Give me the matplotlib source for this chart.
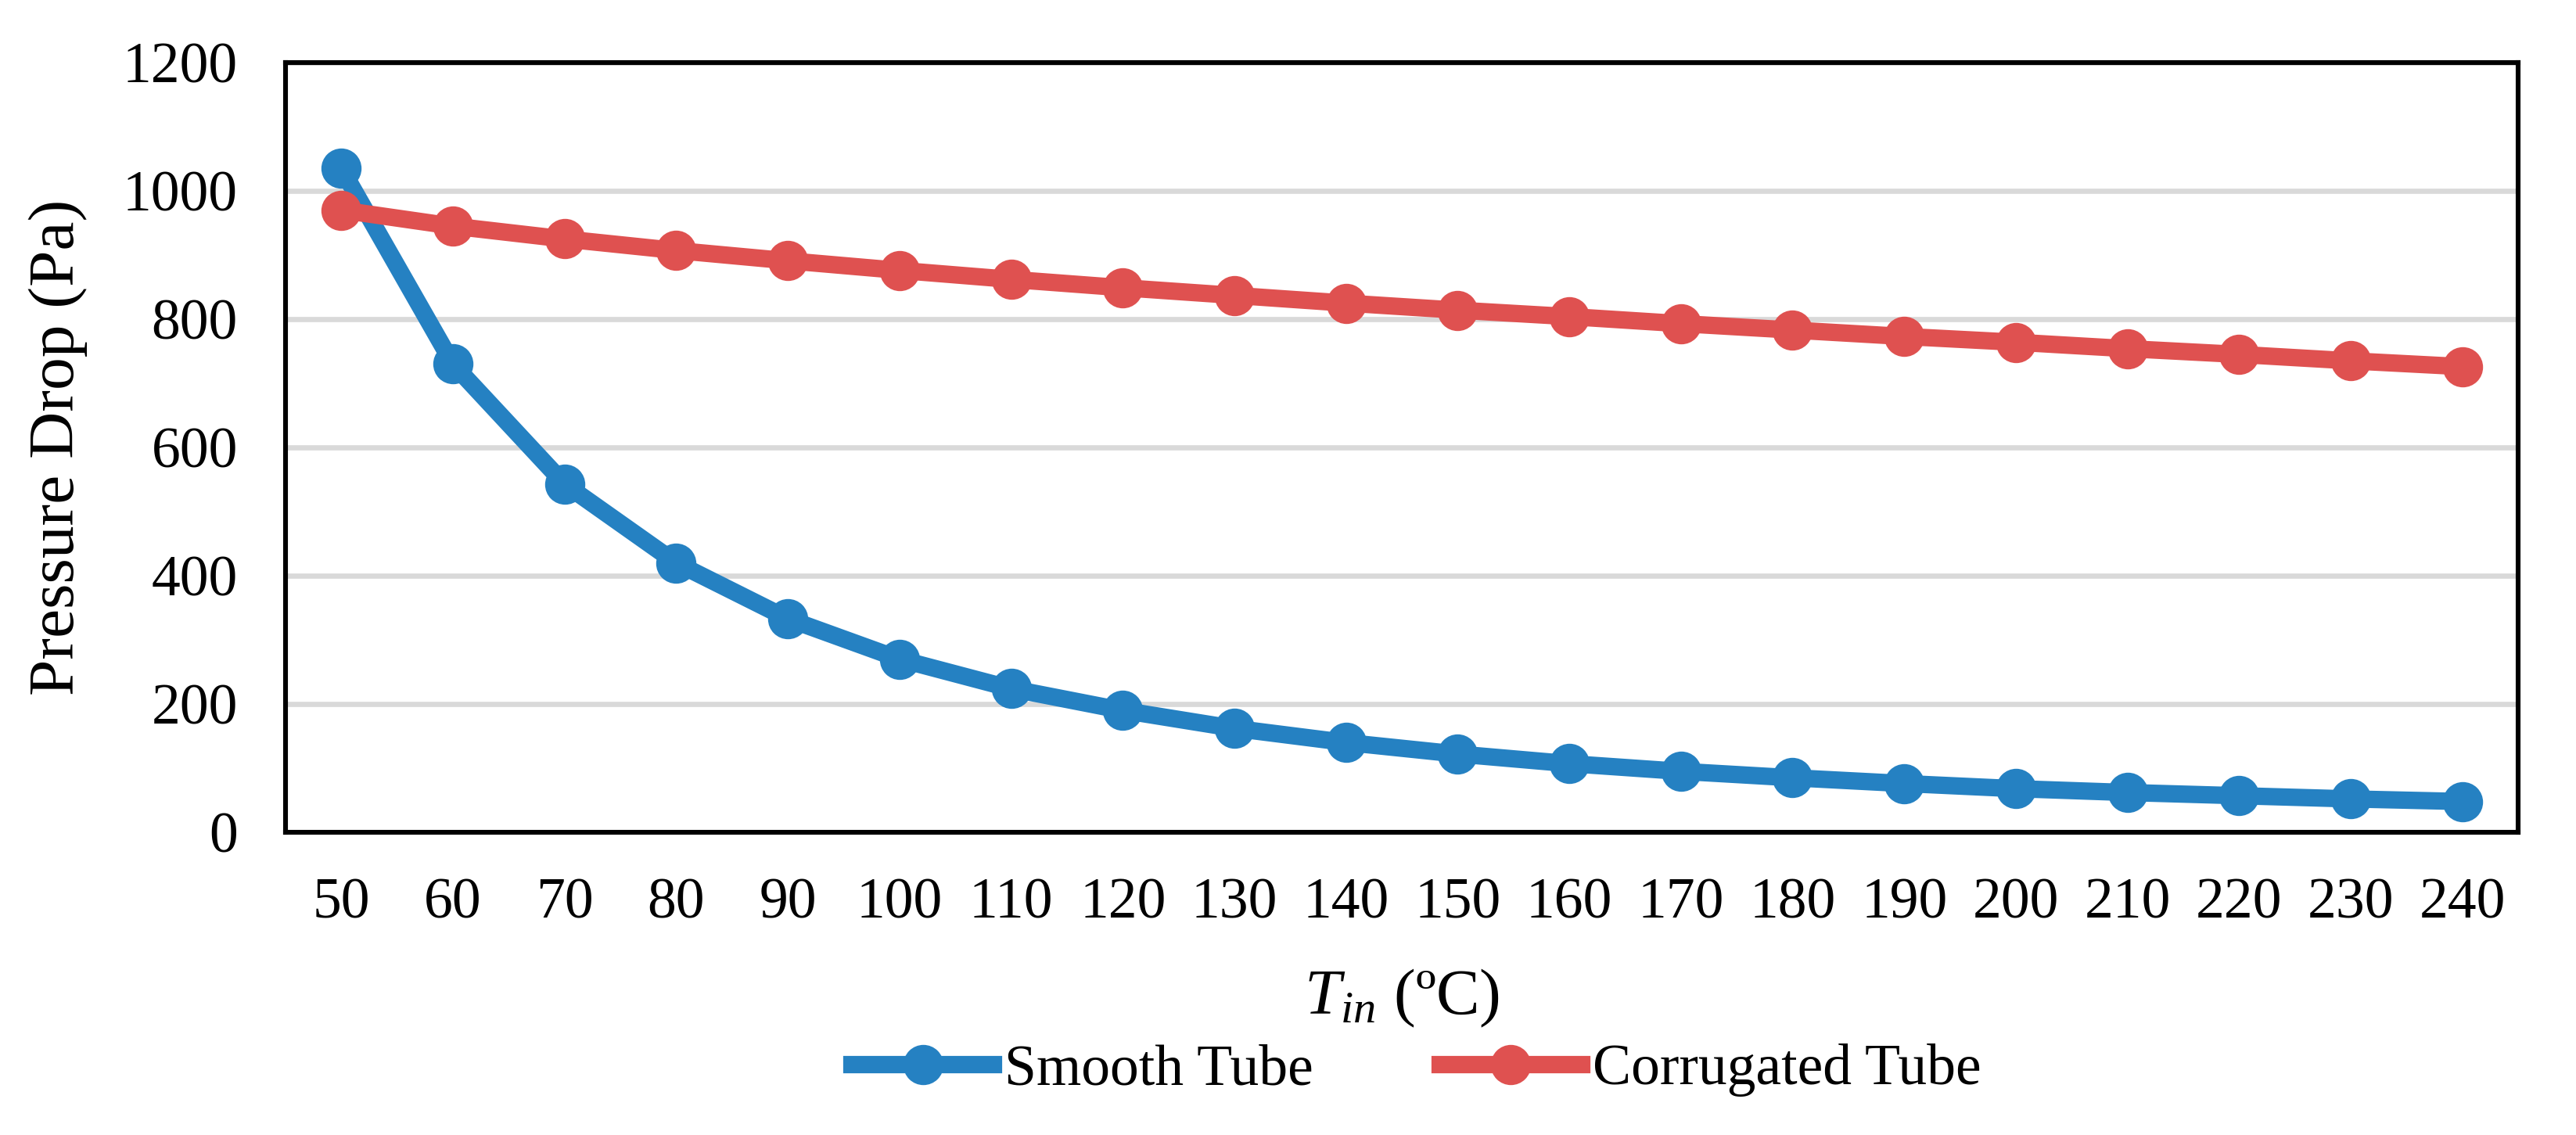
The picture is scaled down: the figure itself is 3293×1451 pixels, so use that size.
import matplotlib
matplotlib.use('Agg')
import matplotlib.pyplot as plt

# inlet temperature categories (degC)
t_in = [50, 60, 70, 80, 90, 100, 110, 120, 130, 140,
        150, 160, 170, 180, 190, 200, 210, 220, 230, 240]
# pressure drop (Pa)
smooth = [1035, 730, 543, 420, 333, 270, 224, 190, 162, 140,
          122, 107, 95, 85, 76, 68, 62, 57, 52, 48]
corrugated = [970, 945, 925, 907, 891, 876, 862, 849, 837, 825,
              814, 804, 793, 783, 773, 764, 754, 745, 735, 726]
yticks = [0, 200, 400, 600, 800, 1000, 1200]

plt.rcParams['font.family'] = ['Liberation Serif', 'DejaVu Serif']
plt.rcParams['mathtext.fontset'] = 'custom'
plt.rcParams['mathtext.rm'] = 'Liberation Serif'
plt.rcParams['mathtext.it'] = 'Liberation Serif:italic'

fig = plt.figure(figsize=(3293/200, 1451/200), dpi=200)
ax = fig.add_axes([365/3293, 1 - 1064/1451, (3219-365)/3293, (1064-80)/1451])

x = list(range(len(t_in)))
ax.plot(x, smooth, color='#2581C2', lw=8, marker='o', ms=17.5, label='Smooth Tube', zorder=3)
ax.plot(x, corrugated, color='#DF5150', lw=8, marker='o', ms=17.5, label='Corrugated Tube', zorder=3)

ax.set_xlim(-0.5, len(t_in) - 0.5)
ax.set_ylim(0, 1200)
ax.set_xticks(x)
ax.set_xticklabels([str(v) for v in t_in])
ax.set_yticks(yticks)
ax.tick_params(axis='both', length=0, labelsize=26.5)
ax.tick_params(axis='x', pad=21)
ax.tick_params(axis='y', pad=22)
ax.yaxis.grid(True, color='#D9D9D9', lw=2.4)
ax.set_axisbelow(True)
for s in ax.spines.values():
    s.set_linewidth(2.2)
    s.set_color('black')

ax.set_ylabel('Pressure Drop (Pa)', fontsize=30, labelpad=16)
ax.set_xlabel(r'$T_{in}$ (ºC)', fontsize=30, labelpad=17)

fig.legend(loc='center', bbox_to_anchor=(0.55, 0.057), ncol=2, frameon=False,
           fontsize=26.5, handlelength=2.45, handletextpad=0.2, columnspacing=2.2)

fig.savefig('out.png', dpi=200)
